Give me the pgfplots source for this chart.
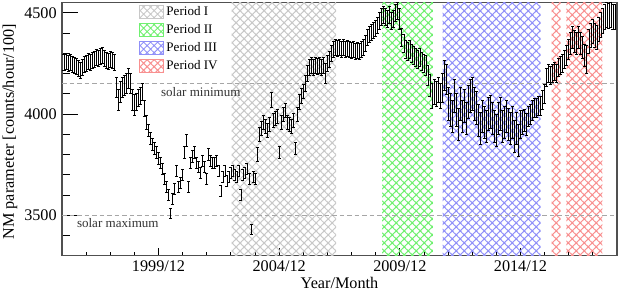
\documentclass[border=0pt]{standalone}
\usepackage{fontspec}
\setmainfont{Liberation Serif}
\usepackage{pgfplots}
\usepackage{pgfplotstable}
\pgfplotsset{compat=1.18}
\usetikzlibrary{patterns.meta}

\definecolor{pgray}{HTML}{C8C8C8}
\definecolor{pgreen}{HTML}{70F070}
\definecolor{pblue}{HTML}{9090F8}
\definecolor{pred}{HTML}{F89090}
\definecolor{frame}{HTML}{505050}

\pgfplotsset{
  per/.style={draw=none, fill=none, pattern={Hatch[angle=45,distance=3.77pt,line width=0.7pt]}, pattern color=#1,
    legend image code/.code={\draw[pattern={Hatch[angle=45,distance=3.3pt,line width=0.6pt]}, pattern color=#1, draw=#1, line width=0.5pt] (0pt,-4.2pt) rectangle (16pt,4.2pt);}},
}

% monthly NM parameter from 1996/01, columns: value, error
\pgfplotstableread{
y e
4255 40
4260 40
4250 40
4255 40
4245 40
4240 40
4235 40
4225 40
4215 40
4230 40
4245 40
4250 40
4260 40
4255 40
4265 40
4270 40
4280 40
4275 40
4285 40
4290 40
4275 40
4265 40
4260 40
4270 40
4265 40
4255 40
4130 50
4070 50
4110 50
4130 50
4140 50
4150 50
4175 50
4150 50
4070 50
4045 50
4060 40
4080 40
4090 40
4110 40
4030 40
3960 35
3920 30
3880 30
3850 30
3830 30
3810 30
3780 30
3760 28
3730 28
3680 28
3640 28
3600 28
3510 25
3580 28
3630 28
3720 28
3640 28
3660 28
3700 28
3810 28
3870 28
3640 28
3760 28
3790 28
3810 28
3760 28
3740 28
3710 28
3770 28
3740 28
3680 28
3800 28
3770 28
3760 28
3760 28
3770 28
3720 28
3620 28
3690 28
3720 28
3670 28
3690 28
3710 28
3720 28
3700 28
3690 28
3720 28
3600 28
3700 28
3710 28
3730 28
3680 28
3430 25
3690 28
3680 28
3800 35
3900 35
3930 35
3960 35
3940 35
3920 35
3950 35
4070 35
3970 35
3980 35
3990 35
3810 30
3960 35
4000 35
4020 35
3960 35
3950 35
3940 35
3970 35
3830 30
4000 35
4060 35
4090 35
4110 35
4150 40
4200 40
4230 40
4240 40
4230 40
4240 40
4235 40
4240 40
4230 40
4240 40
4200 50
4250 40
4270 40
4300 40
4320 40
4330 40
4325 40
4330 40
4320 40
4330 40
4320 40
4325 40
4320 40
4315 40
4320 40
4310 40
4315 40
4310 40
4320 40
4330 40
4350 40
4380 40
4395 40
4405 40
4415 40
4425 40
4440 40
4460 40
4480 40
4490 40
4480 40
4470 40
4490 40
4460 40
4470 40
4500 40
4510 40
4470 50
4380 45
4350 45
4320 45
4310 45
4320 45
4300 45
4290 45
4280 45
4270 45
4280 45
4260 45
4250 45
4240 50
4190 50
4140 55
4090 60
4110 60
4100 60
4120 60
4090 60
4130 70
4190 75
4170 75
4050 80
4020 80
3990 80
4090 80
4020 80
3950 80
4050 80
3990 80
4040 80
3980 80
4060 80
4090 80
4100 80
4050 80
4030 80
3970 80
3930 80
3990 80
3960 80
3940 80
4000 80
4010 80
3980 80
3940 80
3920 80
3980 80
4000 80
3940 80
3960 80
3990 80
3950 80
3930 80
3960 80
3890 80
3930 80
3870 80
3950 70
3960 60
3970 55
3950 55
3990 50
4000 50
4020 50
4030 45
4030 45
4040 45
4040 45
4070 45
4100 45
4180 45
4200 45
4190 45
4200 45
4210 45
4200 45
4230 45
4240 45
4250 45
4270 45
4290 50
4320 50
4350 55
4380 55
4360 55
4350 55
4380 55
4350 55
4330 55
4290 55
4270 70
4360 60
4390 60
4410 60
4390 60
4380 60
4420 60
4440 60
4460 60
4480 60
4490 60
4485 60
4490 60
4480 60
4480 60
}\nmdata

\begin{document}
\begin{tikzpicture}
\begin{axis}[
  scale only axis,
  width=369.7pt, height=168.5pt,
  at={(0,0)}, anchor=south west,
  xmin=1995.917, xmax=2018.917,
  ymin=3300, ymax=4550,
  axis line style={frame, line width=0.8pt},
  tick pos=left, tick align=inside,
  xtick={1999.917,2004.917,2009.917,2014.917},
  xticklabels={1999/12,2004/12,2009/12,2014/12},
  minor xtick={1996.917,1997.917,1998.917,2000.917,2001.917,2002.917,2003.917,2005.917,2006.917,2007.917,2008.917,2010.917,2011.917,2012.917,2013.917,2015.917,2016.917,2017.917},
  ytick={3500,4000,4500},
  minor ytick={3400,3600,3700,3800,3900,4100,4200,4300,4400},
  yticklabel style={/pgf/number format/.cd, fixed, 1000 sep={}},
  /pgf/number format/assume math mode=true,
  ticklabel style={font=\fontsize{10.8}{12}\selectfont},
  label style={font=\fontsize{10.8}{12}\selectfont},
  xtick style={black, line width=0.6pt, /pgfplots/major tick length=5.3pt, /pgfplots/minor tick length=2.7pt},
  ytick style={black, line width=0.6pt, /pgfplots/major tick length=10.7pt, /pgfplots/minor tick length=5.3pt},
  xlabel={Year/Month},
  ylabel={NM parameter [counts/hour/100]},
  xlabel style={at={(axis description cs:0.5,0)}, anchor=center, yshift=-18.2pt},
  ylabel style={at={(axis description cs:-0.0936,0.49)}, anchor=center, rotate=0},
  legend style={at={(rel axis cs:0.139,0.997)}, anchor=north west, draw=none, fill=none,
    font=\fontsize{8.7}{9}\selectfont, inner sep=0pt, row sep=1.5pt,
    nodes={inner sep=1.5pt}},
  legend cell align=left,
  clip=true,
]
\addplot[per=pgray] coordinates {(2002.95,3300) (2002.95,4550) (2007.28,4550) (2007.28,3300)} -- cycle;
\addlegendentry{Period I}
\addplot[per=pgreen] coordinates {(2009.18,3300) (2009.18,4550) (2011.29,4550) (2011.29,3300)} -- cycle;
\addlegendentry{Period II}
\addplot[per=pblue] coordinates {(2011.69,3300) (2011.69,4550) (2015.75,4550) (2015.75,3300)} -- cycle;
\addlegendentry{Period III}
\addplot[per=pred] coordinates {(2016.21,3300) (2016.21,4550) (2016.58,4550) (2016.58,3300)} -- cycle;
\addlegendentry{Period IV}
\addplot[per=pred, forget plot] coordinates {(2016.82,3300) (2016.82,4550) (2018.31,4550) (2018.31,3300)} -- cycle;

\addplot[forget plot, gray!70, dashed, line width=0.6pt, dash pattern=on 3pt off 2pt] coordinates {(1995.917,4150) (2018.917,4150)};
\addplot[forget plot, gray!70, dashed, line width=0.6pt, dash pattern=on 3pt off 2pt] coordinates {(1995.917,3500) (2018.917,3500)};

\addplot[forget plot, draw=none, mark=none,
  error bars/.cd, y dir=both, y explicit,
  error bar style={draw=black, line width=0.45pt},
  error mark options={rotate=90, draw=black, mark size=1pt, line width=0.45pt}]
  table[x expr={1996+\coordindex/12}, y=y, y error=e] {\nmdata};

\node[font=\fontsize{8.7}{9}\selectfont, text=black!80] at (axis cs:2001.67,4108) {solar minimum};
\node[font=\fontsize{8.7}{9}\selectfont, text=black!80] at (axis cs:1998.23,3463) {solar maximum};
\end{axis}
\pgfresetboundingbox
\path[use as bounding box] (-41.3pt,-23.5pt) rectangle (373.7pt,170.3pt);
\end{tikzpicture}
\end{document}
